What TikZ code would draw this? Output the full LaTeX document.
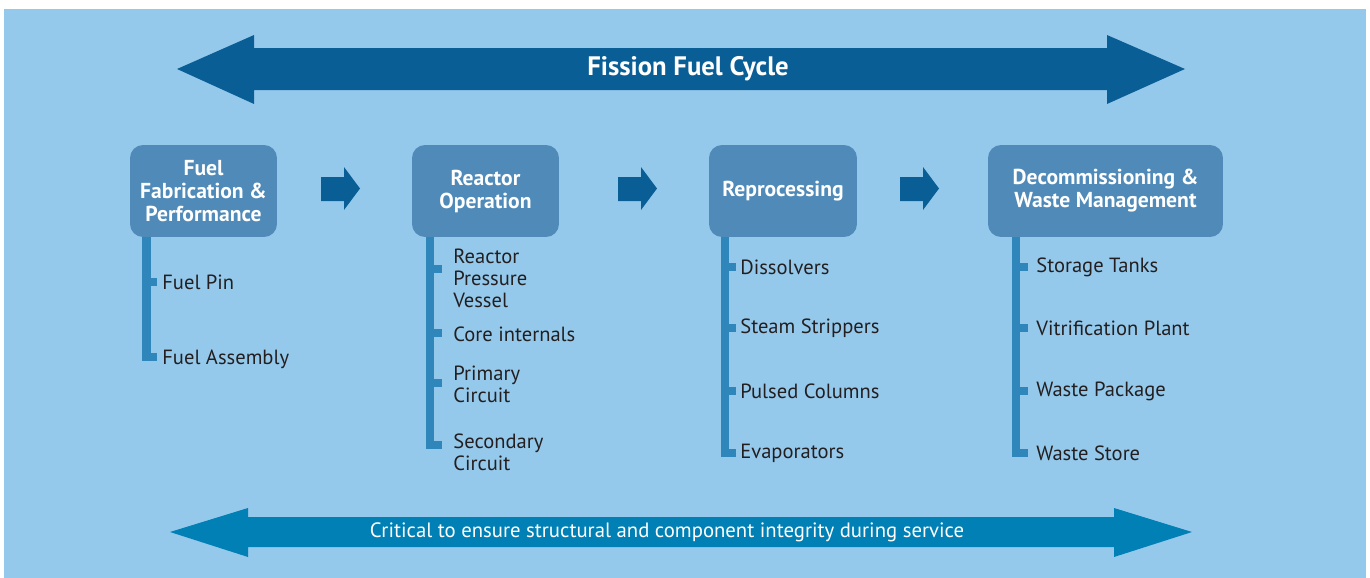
\documentclass[tikz,border=0pt]{standalone}
\usepackage{fontspec}
\setmainfont{PT Sans}
\usetikzlibrary{positioning,calc}
\definecolor{bgblue}{HTML}{95C9EC}
\definecolor{darkarrow}{HTML}{0A5E96}
\definecolor{midarrow}{HTML}{0080B4}
\definecolor{boxblue}{HTML}{4F8AB8}
\definecolor{barblue}{HTML}{2E86BA}
\definecolor{textdark}{HTML}{231F20}
\tikzset{
    stage/.style={rounded corners=0.26cm, fill=boxblue, text=white, inner sep=0pt,
        minimum height=1.84cm, align=center, font=\bfseries\fontsize{12.3}{13.1}\selectfont},
    item/.style={anchor=west, inner sep=0pt, text=textdark, align=left,
        font=\fontsize{11.7}{12.5}\selectfont},
    stem/.style={draw=barblue, line width=0.17cm},
    tick/.style={draw=barblue, line width=0.16cm}
}

\begin{document}
\begin{tikzpicture}[x=0.02cm, y=-0.02cm]
    \useasboundingbox (0,0) rectangle (1370,578);
    \fill[bgblue] (4,9) rectangle (1366,578);
    % top arrow
    \fill[darkarrow] (177,69) -- (254,35) -- (254,48) -- (1107,48) -- (1107,35) -- (1185,69)
        -- (1107,104) -- (1107,90) -- (254,90) -- (254,104) -- cycle;
    \node[text=white, font=\bfseries\fontsize{15.2}{17}\selectfont] (cycle) at (688,69) {Fission Fuel Cycle};
    % bottom arrow
    \fill[midarrow] (170,532) -- (248,508) -- (248,517) -- (1114,517) -- (1114,508) -- (1192,532)
        -- (1114,557) -- (1114,547) -- (248,547) -- (248,557) -- cycle;
    \node[text=white, font=\fontsize{11.8}{13}\selectfont] (service) at (667,532)
        {Critical to ensure structural and component integrity during service};

    \node[stage, minimum width=2.94cm] (fab) at (203.5,191) {Fuel\\Fabrication \&\\Performance};
    \node[stage, minimum width=2.94cm] (reactor) at (485.5,191) {Reactor\\Operation};
    \node[stage, minimum width=2.96cm] (repro) at (783,191) {Reprocessing};
    \node[stage, minimum width=4.70cm] (waste) at (1105.5,191) {Decommissioning \&\\Waste Management};

    \foreach \x in {321, 618, 900}
        \fill[darkarrow] (\x,177) -- ++(23,0) -- ++(0,-10) -- ++(16,21.5) -- ++(-16,21.5)
            -- ++(0,-9) -- ++(-23,0) -- cycle;

    % fuel fabrication
    \coordinate (fabend) at (146.5,361);
    \draw[stem] (fabend |- fab.south) -- (fabend);
    \foreach \name/\ty/\cy/\txt in {pin/282/282/Fuel Pin, assy/357/359/Fuel Assembly} {
        \node[item] (\name) at (162,\cy) {\txt};
        \draw[tick] (fabend |- 0,\ty) -- ++(10.5,0);
    }

    % reactor operation
    \coordinate (reactorend) at (430,449);
    \draw[stem] (reactorend |- reactor.south) -- (reactorend);
    \foreach \name/\ty/\cy/\txt in {rpv/269/278/{Reactor\\Pressure\\Vessel}, core/333/334/Core internals,
        prim/383/384/{Primary\\Circuit}, sec/445/452/{Secondary\\Circuit}} {
        \node[item] (\name) at (453,\cy) {\txt};
        \draw[tick] (reactorend |- 0,\ty) -- ++(12,0);
    }

    % reprocessing
    \coordinate (reproend) at (725,457);
    \draw[stem] (reproend |- repro.south) -- (reproend);
    \foreach \name/\ty/\txt in {diss/267/Dissolvers, strip/328/Steam Strippers,
        pulse/391/Pulsed Columns, evap/453/Evaporators} {
        \node[item] (\name) at (740,\ty) {\txt};
        \draw[tick] (reproend |- 0,\ty) -- ++(10.5,0);
    }

    % decommissioning and waste
    \coordinate (wasteend) at (1016,457);
    \draw[stem] (wasteend |- waste.south) -- (wasteend);
    \foreach \name/\ty/\txt in {tank/267/Storage Tanks, vitri/328/Vitrification Plant,
        pack/391/Waste Package, store/453/Waste Store} {
        \node[item] (\name) at (1036,\ty) {\txt};
        \draw[tick] (wasteend |- 0,\ty) -- ++(12,0);
    }
\end{tikzpicture}
\end{document}
